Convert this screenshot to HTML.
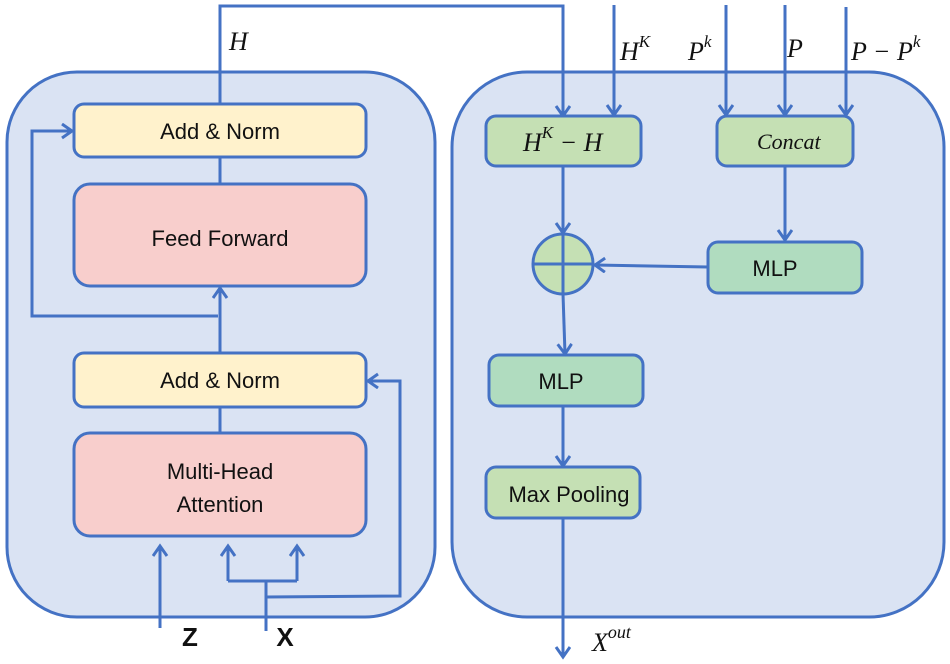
<!DOCTYPE html>
<html><head><meta charset="utf-8"><style>
html,body{margin:0;padding:0;background:#fff;}
svg{display:block;}
text{font-family:"Liberation Sans",sans-serif;fill:#111;}
.m{font-family:"Liberation Serif",serif;font-style:italic;}
</style></head><body>
<svg width="950" height="664" viewBox="0 0 950 664" xmlns="http://www.w3.org/2000/svg">
<defs>
<marker id="a" markerWidth="18" markerHeight="18" refX="12" refY="8" orient="auto" markerUnits="userSpaceOnUse">
<path d="M2,1 L12,8 L2,15" fill="none" stroke="#4472c4" stroke-width="3"/>
</marker>
</defs>
<g stroke="#4472c4" stroke-width="3" fill="none">
<rect x="7" y="72" width="428" height="545" rx="70" fill="#dae3f3"/>
<rect x="452" y="72" width="492" height="545" rx="75" fill="#dae3f3"/>
<rect x="74" y="104" width="292" height="53" rx="10" fill="#fff2cc"/>
<rect x="74" y="184" width="292" height="102" rx="16" fill="#f8cecc"/>
<rect x="74" y="353" width="292" height="54" rx="10" fill="#fff2cc"/>
<rect x="74" y="433" width="292" height="103" rx="16" fill="#f8cecc"/>
<path d="M220,104 L220,6 L563,6 L563,116" marker-end="url(#a)"/>
<line x1="220" y1="157" x2="220" y2="184"/>
<line x1="220" y1="353" x2="220" y2="288" marker-end="url(#a)"/>
<path d="M218,316 L32,316 L32,131 L72,131" marker-end="url(#a)"/>
<line x1="220" y1="407" x2="220" y2="433"/>
<line x1="160" y1="628" x2="160" y2="546" marker-end="url(#a)"/>
<path d="M228,581 L228,546" marker-end="url(#a)"/>
<path d="M297,581 L297,546" marker-end="url(#a)"/>
<path d="M228,581 L297,581"/>
<line x1="266" y1="631" x2="266" y2="581"/>
<path d="M266,597 L400,596 L400,381 L368,381" marker-end="url(#a)"/>
<rect x="486" y="116" width="155" height="50" rx="10" fill="#c5e0b4"/>
<rect x="717" y="116" width="136" height="50" rx="10" fill="#c5e0b4"/>
<rect x="708" y="242" width="154" height="51" rx="10" fill="#b0dcbf"/>
<rect x="489" y="355" width="154" height="51" rx="10" fill="#b0dcbf"/>
<rect x="486" y="467" width="154" height="51" rx="10" fill="#c5e0b4"/>
<circle cx="563" cy="264" r="30" fill="#c5e0b4"/>
<line x1="533" y1="264" x2="593" y2="264"/>
<line x1="563" y1="234" x2="563" y2="294"/>
<line x1="614" y1="5" x2="614" y2="115" marker-end="url(#a)"/>
<line x1="726" y1="5" x2="726" y2="115" marker-end="url(#a)"/>
<line x1="785" y1="5" x2="785" y2="115" marker-end="url(#a)"/>
<line x1="846" y1="7" x2="846" y2="115" marker-end="url(#a)"/>
<line x1="563" y1="166" x2="563" y2="233" marker-end="url(#a)"/>
<line x1="785" y1="166" x2="785" y2="240" marker-end="url(#a)"/>
<line x1="708" y1="267" x2="595" y2="265" marker-end="url(#a)"/>
<line x1="563" y1="294" x2="565" y2="354" marker-end="url(#a)"/>
<line x1="563" y1="406" x2="563" y2="466" marker-end="url(#a)"/>
<line x1="563" y1="518" x2="563" y2="657" marker-end="url(#a)"/>
</g>
<g font-size="22" text-anchor="middle">
<text x="220" y="139">Add &amp; Norm</text>
<text x="220" y="246">Feed Forward</text>
<text x="220" y="388">Add &amp; Norm</text>
<text x="220" y="479">Multi-Head</text>
<text x="220" y="512">Attention</text>
<text x="775" y="276">MLP</text>
<text x="561" y="389">MLP</text>
<text x="569" y="502">Max Pooling</text>
</g>
<text x="190" y="646" font-size="26" font-weight="bold" text-anchor="middle">Z</text>
<text x="285" y="646" font-size="26" font-weight="bold" text-anchor="middle">X</text>
<g class="m" font-size="26">
<text x="229" y="50" class="m">H</text>
<text x="620" y="60" class="m">H<tspan font-size="17" dy="-13">K</tspan></text>
<text x="688" y="60" class="m">P<tspan font-size="17" dy="-13">k</tspan></text>
<text x="787" y="57" class="m">P</text>
<text x="851" y="60" class="m">P − P<tspan font-size="17" dy="-13">k</tspan></text>
<text x="523" y="151" class="m">H<tspan font-size="17" dy="-13">K</tspan><tspan dy="13"> − H</tspan></text>
<text x="757" y="149" class="m" font-size="22">Concat</text>
<text x="592" y="651" class="m">X<tspan font-size="18" dy="-13">out</tspan></text>
</g>
</svg>
</body></html>
